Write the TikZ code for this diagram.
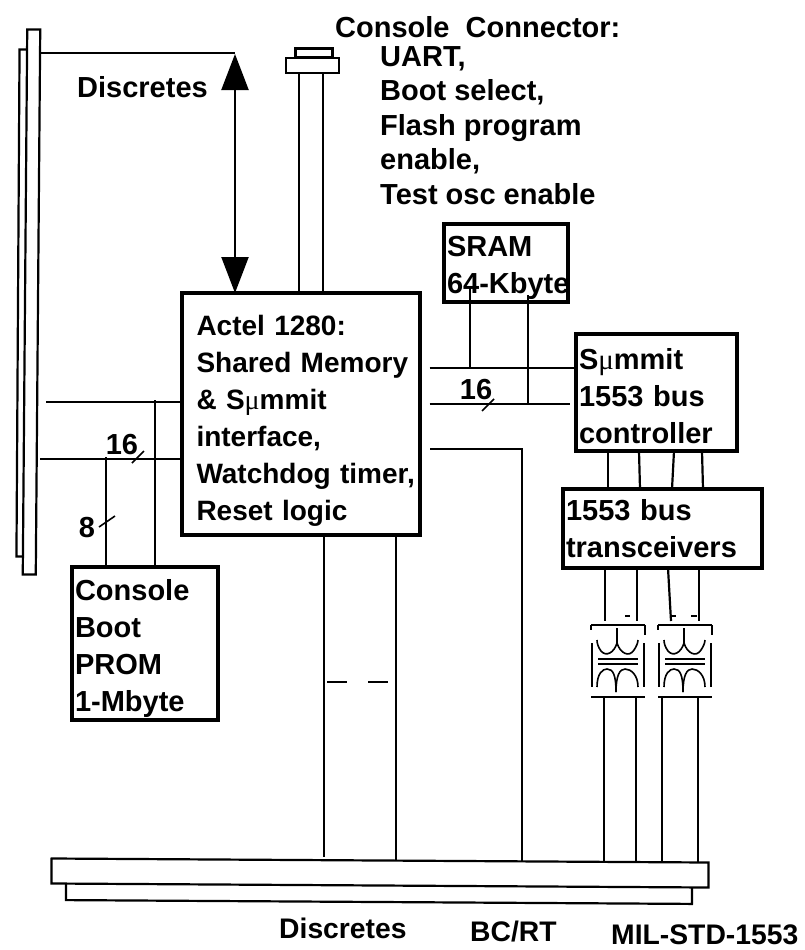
\documentclass[tikz,border=0pt]{standalone}
\usepackage{fontspec}
\setmainfont{Liberation Sans}
\newfontfamily\mufont{Liberation Serif}
\usetikzlibrary{arrows.meta, calc, positioning}
\tikzset{
  sb wire/.style={draw=black, line width=2.2pt},
  sb thin/.style={draw=black, line width=1.6pt},
  sb arrow/.style={draw=black, line width=2.2pt, {Triangle[length=36pt,width=27pt]}-{Triangle[length=36pt,width=27pt]}},
  sb box/.style={draw=black, fill=white, line width=4pt, anchor=north west, align=left, outer sep=0pt,
    inner xsep=3pt, inner ysep=0pt, font=\fontsize{29}{37}\bfseries\selectfont},
  sb bar/.style={draw=black, fill=white, line width=2.2pt, outer sep=0pt, inner sep=0pt},
  sb text/.style={anchor=north west, align=left, inner sep=0pt, font=\fontsize{29}{34.5}\bfseries\selectfont},
  sb foot/.style={anchor=north west, inner sep=0pt, font=\fontsize{28.3}{34}\bfseries\selectfont},
  sb num/.style={inner sep=0pt, font=\fontsize{29}{30}\bfseries\selectfont},
  sb xfmr/.style={minimum width=54pt, minimum height=72pt, inner sep=0pt, outer sep=0pt},
  xfmr coils/.pic={
    \draw[sb thin] (0,0) -- (54,0) (0,72) -- (54,72);
    \draw[sb thin] (1,18) -- (1,62) (53,18) -- (53,62) (0,0) -- (0,5) (54,0) -- (54,10);
    \draw[sb thin] (26,3) -- (26,18) .. controls (23,28) and (15,32) .. (10,26) .. controls (7,22) and (6,18) .. (6,15);
    \draw[sb thin] (26,18) .. controls (29,28) and (38,33) .. (43,25) .. controls (45,22) and (47,18) .. (47,15);
    \draw[sb wire] (7,34) -- (47,34) (7,39) -- (47,39);
    \draw[sb thin] (6,62) .. controls (6,48) and (12,44) .. (16,44) .. controls (22,44) and (25,50) .. (25,67);
    \draw[sb thin] (25,67) .. controls (25,50) and (29,44) .. (34,44) .. controls (40,44) and (47,50) .. (47,62);
  },
}
\newcommand{\mumu}{{\mufont\mdseries μ}}
\newcommand{\lift}[1]{\rule{0pt}{#1}}
\begin{document}
\begin{tikzpicture}[x=1pt, y=-1pt]
 \useasboundingbox (0,0) rectangle (804,950);

 % backplane and bus
 \node[sb bar, minimum width=12pt, minimum height=507pt, rotate=-0.35] (backrear) at (24,303) {};
 \node[sb bar, minimum width=13pt, minimum height=545pt, rotate=-0.47] (back) at (31.5,302) {};
 \node[sb bar, minimum width=626pt, minimum height=28pt, rotate=-0.35] (busrear) at (379,888) {};
 \node[sb bar, minimum width=657pt, minimum height=25pt, rotate=-0.35] (bus) at (380,873) {};

 % connector
 \node[sb bar, minimum width=37pt, minimum height=9pt] (plug) at (314,53) {};
 \node[sb bar, minimum width=53pt, minimum height=15pt] (flange) at (312.5,65.5) {};

 % blocks
 \node[sb box, minimum width=238pt, minimum height=242pt, text width=232pt,
   font=\fontsize{28}{37}\bfseries\selectfont] (actel) at (181.5,293)
   {\leftskip=12pt \lift{34pt}Actel 1280:\\Shared Memory\\\& S\mumu mmit\\interface,\\\mbox{Watchdog timer,}\\Reset logic\par};
 \node[sb box, minimum width=146pt, minimum height=153pt, text width=140pt] (prom) at (72,567)
   {\lift{31pt}Console\\Boot\\PROM\\1-Mbyte};
 \node[sb box, minimum width=124pt, minimum height=78pt, text width=118pt] (sram) at (444,224)
   {\lift{31pt}SRAM\\\mbox{64-Kbyte}};
 \node[sb box, minimum width=161pt, minimum height=117pt, text width=155pt] (summit) at (576,334)
   {\lift{29pt}S\mumu mmit\\1553 bus\\controller};
 \node[sb box, minimum width=199pt, minimum height=79pt, text width=193pt] (xcvr) at (563,489)
   {1553 bus\\transceivers};
 \node[sb xfmr] (xfmra) at (618,661) {};
 \node[sb xfmr] (xfmrb) at (685,661) {};
 \pic at (xfmra.north west) {xfmr coils};
 \pic at (xfmrb.north west) {xfmr coils};

 % free ends
 \coordinate (leftd) at (46,402);
 \coordinate (leftb) at (40,459);
 \coordinate (bcrt) at (522,449);
 \coordinate (srama) at (470,368);
 \coordinate (sramb) at (528,404);

 % discretes and console
 \draw[sb wire] (back.north east |- 0,53) -- (235,53);
 \draw[sb arrow] (235,54) -- (actel.north -| 235,0);
 \draw[sb wire] (flange.south -| 299,0) -- (actel.north -| 299,0);
 \draw[sb wire] (flange.south -| 323,0) -- (actel.north -| 323,0);

 % left side buses
 \draw[sb wire] (leftd) -- (leftd -| actel.west);
 \draw[sb wire] (leftb) -- (leftb -| actel.west);
 \draw[sb wire] (155,400) -- (prom.north -| 155,0);
 \draw[sb wire] (106,457) -- (prom.north -| 106,0);
 \draw[sb thin] (132,463) -- (144,451);
 \draw[sb thin] (99,527) -- (115,516);
 \node[sb num] (numa) at (122,445) {16};
 \node[sb num] (numb) at (87,528) {8};

 % memory bus
 \draw[sb wire] (srama -| actel.east) ++(10,0) -- (srama -| summit.west);
 \draw[sb wire] (sramb -| actel.east) ++(10,0) -- (570,404);
 \draw[sb wire] (470,288) -- (srama);
 \draw[sb wire] (528,295) -- (sramb);
 \draw[sb thin] (482,411) -- (494,399);
 \node[sb num] (numc) at (476,390) {16};
 \draw[sb wire] (430,449) -- (bcrt) -- (bus.north -| bcrt);

 % discretes to bus
 \draw[sb wire] (actel.south -| 324,0) -- (324,857);
 \draw[sb wire] (actel.south -| 396,0) -- (396,861);
 \draw[sb wire, dash pattern=on 20pt off 21pt on 20pt] (327,682) -- (388,682);

 % 1553 channels
 \foreach \xa/\xb in {608/608, 639/640, 674/672, 702/703} {
   \draw[sb wire] (\xa,451) -- (\xb,489);
 }
 \foreach \xa/\xb in {605/605, 637/637, 668/671, 699/699} {
   \draw[sb wire] (\xa,568) -- (\xb,621);
 }
 \draw[sb thin] (625,616) -- (630,616) (670,616) -- (676,616) (691,616) -- (697,616);
 \foreach \xa in {604, 636, 662, 698} {
   \draw[sb wire] (\xa,697) -- (\xa,862);
 }

 % labels
 \node[sb text] (disca) at (77,76) {Discretes};
 \node[sb text] (title) at (335,16) {Console\ \ Connector:};
 \node[sb text, anchor=north west] (items) at (380,46)
   {UART,\\Boot select,\\Flash program\\enable,\\Test osc enable};
 \node[sb foot] (discb) at (279,918) {Discretes};
 \node[sb foot] (bcrtl) at (470,921) {BC/RT};
 \node[sb foot] (mil) at (611,925) {MIL-STD-1553};
\end{tikzpicture}
\end{document}
